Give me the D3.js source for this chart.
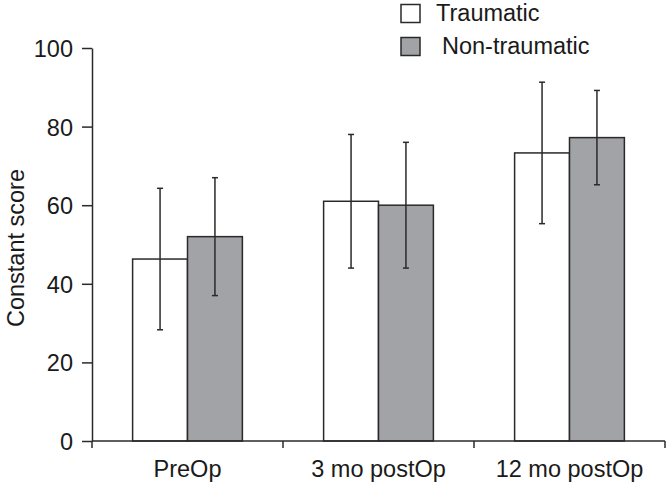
<!DOCTYPE html>
<html><head><meta charset="utf-8">
<script src="https://cdn.jsdelivr.net/npm/d3@7"></script>
<style>body{margin:0;background:#fff}svg{display:block}text{font-family:"Liberation Sans",Arial,sans-serif;fill:#1a1a1a}</style>
</head><body>
<svg id="c" width="666" height="483"></svg>
<script>
const categories = ["PreOp", "3 mo postOp", "12 mo postOp"];
const seriesNames = ["Traumatic", "Non-traumatic"];
const traumaticMean = [46.3, 61, 73.3];
const traumaticSD = [18, 17, 18];
const nonTraumaticMean = [52, 60, 77.2];
const nonTraumaticSD = [15, 16, 12];
const yTicks = [0, 20, 40, 60, 80, 100];
const yLabel = "Constant score";

const colors = ["#ffffff", "#a2a3a7"];
const stroke = "#2a2a2a";
const fs = "23.5px";
const svg = d3.select("#c");
const x = d3.scaleBand().domain(categories).range([92, 665]).padding(0);
const xs = d3.scaleBand().domain(seriesNames).range([0, x.bandwidth()]).paddingInner(0).paddingOuter(0.74);
const y = d3.scaleLinear().domain([0, 100]).range([441, 48]);

const data = [];
categories.forEach((c, i) => {
  data.push({c, s: seriesNames[0], m: traumaticMean[i], sd: traumaticSD[i]});
  data.push({c, s: seriesNames[1], m: nonTraumaticMean[i], sd: nonTraumaticSD[i]});
});

// bars
svg.append("g").selectAll("rect").data(data).join("rect")
  .attr("x", d => x(d.c) + xs(d.s))
  .attr("y", d => y(d.m))
  .attr("width", xs.bandwidth())
  .attr("height", d => y(0) - y(d.m))
  .attr("fill", d => colors[seriesNames.indexOf(d.s)])
  .attr("stroke", stroke).attr("stroke-width", 1.5);

// error bars
const eb = svg.append("g").attr("stroke", stroke).attr("stroke-width", 1.5);
data.forEach(d => {
  const cx = x(d.c) + xs(d.s) + xs.bandwidth() / 2;
  eb.append("line").attr("x1", cx).attr("x2", cx).attr("y1", y(d.m + d.sd)).attr("y2", y(d.m - d.sd));
  [d.m + d.sd, d.m - d.sd].forEach(v => {
    eb.append("line").attr("x1", cx - 3).attr("x2", cx + 3).attr("y1", y(v)).attr("y2", y(v));
  });
});

// y axis
const ya = svg.append("g").attr("transform", "translate(92,0)")
  .call(d3.axisLeft(y).tickValues(yTicks).tickSize(10).tickPadding(9).tickSizeOuter(0));
ya.select(".domain").attr("stroke", stroke).attr("stroke-width", 1.5);
ya.selectAll(".tick line").attr("stroke", stroke).attr("stroke-width", 1.5);
ya.selectAll(".tick text").style("font-size", fs).attr("fill", "#1a1a1a")
  .style("font-family", '"Liberation Sans",Arial,sans-serif').attr("dy", "0.36em");

// x axis
const xa = svg.append("g").attr("stroke", stroke).attr("stroke-width", 1.5);
xa.append("line").attr("x1", x.range()[0]).attr("x2", x.range()[1]).attr("y1", y(0)).attr("y2", y(0));
const bounds = [x.range()[0]].concat(categories.map(c => x(c) + x.bandwidth()));
bounds.forEach(b => xa.append("line").attr("x1", b).attr("x2", b).attr("y1", y(0)).attr("y2", y(0) + 7));
svg.append("g").selectAll("text").data(categories).join("text")
  .attr("x", c => x(c) + x.bandwidth() / 2).attr("y", 477)
  .attr("text-anchor", "middle").style("font-size", fs).text(c => c);

// y label
svg.append("text").attr("transform", "translate(24,248) rotate(-90)")
  .attr("text-anchor", "middle").style("font-size", fs).text(yLabel);

// legend
const lg = svg.append("g");
seriesNames.forEach((s, i) => {
  lg.append("rect").attr("x", 401).attr("y", 4.5 + i * 33).attr("width", 19).attr("height", 18)
    .attr("fill", colors[i]).attr("stroke", stroke).attr("stroke-width", 1.5);
  lg.append("text").attr("x", i === 0 ? 436 : 442).attr("y", 21 + i * 33)
    .style("font-size", fs).text(s);
});
</script>
</body></html>
